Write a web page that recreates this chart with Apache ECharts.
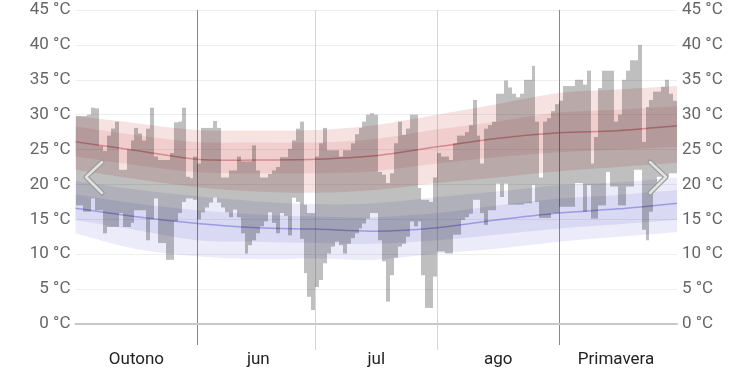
<!DOCTYPE html>
<html><head><meta charset="utf-8">
<script src="https://cdn.jsdelivr.net/npm/echarts@6/dist/echarts.min.js"></script>
<style>html,body{margin:0;padding:0;background:#fff}#c{width:753px;height:372px}</style>
</head><body><div id="c"></div>
<script>
// Day 0 = 1 May, last day = 30 Sep
const dayCount = 153;
const dailyLow = [
17.0,17.0,16.1,16.1,18.0,16.3,16.3,13.0,13.9,13.9,
13.9,15.9,13.9,13.9,14.5,16.3,16.3,16.3,12.0,15.0,
18.0,11.6,11.6,9.2,9.2,14.7,15.9,17.5,18.0,18.0,
17.8,15.0,16.0,16.7,17.4,18.1,17.4,16.7,16.0,15.3,
16.4,15.3,13.0,10.1,11.3,12.0,13.0,14.0,14.7,16.0,
14.5,13.0,15.9,15.5,12.7,18.1,17.5,12.2,7.3,3.9,
2.0,5.3,6.3,8.7,10.1,11.1,11.8,11.3,10.1,11.5,
12.3,13.0,13.7,14.4,15.1,15.9,15.9,12.0,9.0,3.2,
7.0,9.5,11.1,11.5,12.5,14.7,14.0,14.7,7.0,2.3,
2.3,6.8,10.4,10.4,10.1,10.1,12.8,12.8,14.9,15.3,
15.8,17.8,17.8,15.9,14.2,16.3,16.3,20.1,18.2,20.1,
17.1,17.1,17.1,17.1,17.3,17.3,19.9,17.5,15.2,15.2,
15.2,15.9,15.9,16.8,16.8,16.8,16.8,20.2,20.2,16.1,
19.9,15.1,15.1,17.0,17.0,21.8,19.7,19.7,17.0,17.0,
19.7,19.7,22.1,22.1,13.5,12.0,16.1,19.7,21.1,21.1,
21.1,21.6,21.6
];
const dailyHigh = [
29.8,29.8,29.8,30.0,31.0,30.9,25.5,24.8,27.0,28.0,
29.0,22.1,22.1,25.0,26.3,28.1,27.3,26.3,28.0,31.0,
24.0,23.5,23.5,23.5,24.5,28.9,29.0,31.0,21.1,20.9,
24.0,23.0,28.1,28.1,28.1,29.1,28.1,21.0,21.0,22.0,
22.0,24.0,23.3,23.3,23.3,25.6,22.0,21.0,21.0,21.5,
22.0,22.5,23.9,23.9,25.1,26.3,28.0,29.0,17.1,15.9,
15.9,24.0,25.9,28.1,24.9,24.9,24.9,24.0,24.9,24.9,
25.9,27.2,28.1,29.0,30.0,30.2,30.0,21.8,21.4,20.2,
21.6,25.9,29.0,27.1,28.0,30.0,30.0,19.5,17.8,17.8,
17.5,21.0,24.5,24.0,24.0,23.5,25.9,27.0,27.0,27.5,
28.5,32.1,27.0,23.0,28.0,28.5,29.0,33.0,33.0,34.9,
33.9,33.0,32.5,33.0,35.0,35.0,37.0,29.0,21.0,29.0,
29.5,30.5,31.5,32.0,34.1,34.1,34.1,35.0,35.0,34.3,
36.3,23.0,26.8,33.8,36.3,36.3,36.3,29.0,30.0,35.0,
36.3,37.8,37.8,40.0,26.1,31.1,32.1,33.3,33.3,34.0,
35.0,33.0,32.0
];
// Climate normals read at these days
const bandDays = [0, 15, 31, 46, 61, 76, 92, 107, 123, 138, 153];
const highAvg = [26.1, 24.9, 23.6, 23.5, 23.6, 24.1, 25.4, 26.6, 27.4, 27.7, 28.4];
const highP90 = [29.8, 28.8, 27.8, 27.7, 27.8, 28.5, 30.0, 31.5, 33.1, 33.6, 34.1];
const highP75 = [28.3, 27.1, 26.1, 26.0, 26.0, 26.5, 27.9, 29.0, 30.3, 30.7, 31.2];
const highP25 = [24.0, 22.8, 21.8, 21.6, 21.6, 21.9, 23.0, 23.9, 24.6, 25.0, 25.4];
const highP10 = [22.1, 20.8, 19.6, 19.0, 18.8, 19.2, 20.2, 21.0, 21.9, 22.5, 23.1];
const lowAvg  = [16.6, 15.4, 14.4, 13.8, 13.6, 13.3, 13.8, 14.9, 15.9, 16.5, 17.3];
const lowP90  = [20.5, 19.3, 18.3, 17.6, 17.2, 17.3, 18.2, 19.0, 19.9, 20.3, 21.0];
const lowP75  = [18.6, 17.3, 16.3, 15.7, 15.4, 15.3, 15.9, 17.0, 18.0, 18.5, 19.2];
const lowP25  = [14.9, 13.5, 12.0, 11.8, 11.6, 11.5, 12.0, 12.8, 13.7, 14.3, 14.9];
const lowP10  = [13.0, 10.8, 9.7, 9.3, 9.4, 9.2, 10.1, 10.8, 11.8, 12.5, 13.2];

const periodLabels = {15: 'Outono', 46: 'jun', 76: 'jul', 107: 'ago', 137: 'Primavera'};
const seasonLines = [31, 123];
const monthLines = [61, 92];
const yMin = 0, yMax = 45, yStep = 5;

const cats = Array.from({length: dayCount}, (_, i) => String(i));

// Catmull-Rom curve through screen points, as SVG path commands
function curveCmds(p) {
  let s = '';
  for (let i = 0; i < p.length - 1; i++) {
    const p0 = p[i - 1] || p[i], p1 = p[i], p2 = p[i + 1], p3 = p[i + 2] || p2;
    const c1 = [p1[0] + (p2[0] - p0[0]) / 6, p1[1] + (p2[1] - p0[1]) / 6];
    const c2 = [p2[0] - (p3[0] - p1[0]) / 6, p2[1] - (p3[1] - p1[1]) / 6];
    s += 'C' + c1[0] + ' ' + c1[1] + ' ' + c2[0] + ' ' + c2[1] + ' ' + p2[0] + ' ' + p2[1];
  }
  return s;
}
function band(top, bottom, color) {
  return {
    type: 'custom', silent: true, z: 1, clip: true,
    data: [[0, yMin]],
    renderItem: (params, api) => {
      const up = bandDays.map((d, i) => api.coord([d, top[i]]));
      const lo = bandDays.map((d, i) => api.coord([d, bottom[i]])).reverse();
      const path = 'M' + up[0][0] + ' ' + up[0][1] + curveCmds(up) +
                   'L' + lo[0][0] + ' ' + lo[0][1] + curveCmds(lo) + 'Z';
      return {type: 'path', shape: {pathData: path}, style: {fill: color}};
    }
  };
}
function avgLine(vals, color) {
  return {
    type: 'custom', silent: true, z: 2, clip: true,
    data: [[0, yMin]],
    renderItem: (params, api) => {
      const p = bandDays.map((d, i) => api.coord([d, vals[i]]));
      return {type: 'path', shape: {pathData: 'M' + p[0][0] + ' ' + p[0][1] + curveCmds(p)},
              style: {fill: null, stroke: color, lineWidth: 1.5}};
    }
  };
}
function vLines(days, color, extra) {
  return {
    type: 'custom', clip: false, silent: true, z: 0,
    data: days.map(d => [d, yMin]),
    renderItem: (params, api) => {
      const d = api.value(0);
      const p0 = api.coord([d, yMax]);
      const p1 = api.coord([d, yMin]);
      const x = Math.round(p0[0]) + 0.5;
      return {type: 'line', shape: {x1: x, y1: p0[1], x2: x, y2: p1[1] + extra},
              style: {stroke: color, lineWidth: 1}};
    }
  };
}

const chart = echarts.init(document.getElementById('c'), null, {renderer: 'canvas'});
const labelFont = {fontFamily: 'Roboto', fontSize: 17};
chart.setOption({
  animation: false,
  backgroundColor: '#fff',
  grid: {left: 75.5, right: 76, top: 10, bottom: 48},
  xAxis: [
    {type: 'value', min: 0, max: dayCount, show: true,
     axisLine: {show: true, onZero: false, lineStyle: {color: '#c8c8c8', width: 2}},
     axisTick: {show: false}, axisLabel: {show: false}, splitLine: {show: false}},
    {type: 'category', data: cats, boundaryGap: true, position: 'bottom',
     axisLine: {show: false}, axisTick: {show: false}, splitLine: {show: false},
     axisLabel: Object.assign({interval: 0, margin: 27, color: '#222',
       formatter: (v, i) => periodLabels[i] || ''}, labelFont)}
  ],
  yAxis: [
    {type: 'value', min: yMin, max: yMax, interval: yStep, position: 'left',
     axisLine: {show: false}, axisTick: {show: false},
     axisLabel: Object.assign({margin: 5, color: '#666', formatter: '{value} °C'}, labelFont),
     splitLine: {show: true, lineStyle: {color: '#eeeeee', width: 1}}},
    {type: 'value', min: yMin, max: yMax, interval: yStep, position: 'right',
     axisLine: {show: false}, axisTick: {show: false},
     axisLabel: Object.assign({margin: 5, color: '#666', formatter: '{value} °C'}, labelFont),
     splitLine: {show: false}}
  ],
  series: [
    vLines(monthLines, '#d6d6d6', 26),
    vLines(seasonLines, '#888888', 21),
    band(highP90, highP10, 'rgba(200,50,50,0.14)'),
    band(highP75, highP25, 'rgba(200,50,50,0.11)'),
    band(lowP90, lowP10, 'rgba(60,60,200,0.10)'),
    band(lowP75, lowP25, 'rgba(60,60,200,0.10)'),
    avgLine(highAvg, 'rgba(190,70,70,0.5)'),
    avgLine(lowAvg, 'rgba(80,80,210,0.45)'),
    {type: 'custom', z: 3, silent: true,
     data: dailyLow.map((lo, i) => [i, lo, dailyHigh[i]]),
     encode: {x: 0, y: [1, 2]},
     renderItem: (params, api) => {
       const d = api.value(0), lo = api.value(1), hi = api.value(2);
       const p0 = api.coord([d, hi]);
       const p1 = api.coord([d + 1, lo]);
       const x0 = Math.round(p0[0]), x1 = Math.round(p1[0]);
       return {type: 'rect', shape: {x: x0, y: p0[1], width: x1 - x0, height: p1[1] - p0[1]},
               style: {fill: 'rgba(0,0,0,0.25)'}};
     }}
  ],
  graphic: [
    {type: 'polyline', z: 100, shape: {points: [[102, 162], [86, 177], [102, 193]]},
     style: {stroke: '#9a9a9a', lineWidth: 5, fill: null, lineCap: 'round', lineJoin: 'round'}},
    {type: 'polyline', z: 101, shape: {points: [[102, 162], [86, 177], [102, 193]]},
     style: {stroke: '#e2e2e2', lineWidth: 2.5, fill: null, lineCap: 'round', lineJoin: 'round'}},
    {type: 'polyline', z: 100, shape: {points: [[650, 162], [666, 177], [650, 193]]},
     style: {stroke: '#9a9a9a', lineWidth: 5, fill: null, lineCap: 'round', lineJoin: 'round'}},
    {type: 'polyline', z: 101, shape: {points: [[650, 162], [666, 177], [650, 193]]},
     style: {stroke: '#e2e2e2', lineWidth: 2.5, fill: null, lineCap: 'round', lineJoin: 'round'}}
  ]
});
</script></body></html>
